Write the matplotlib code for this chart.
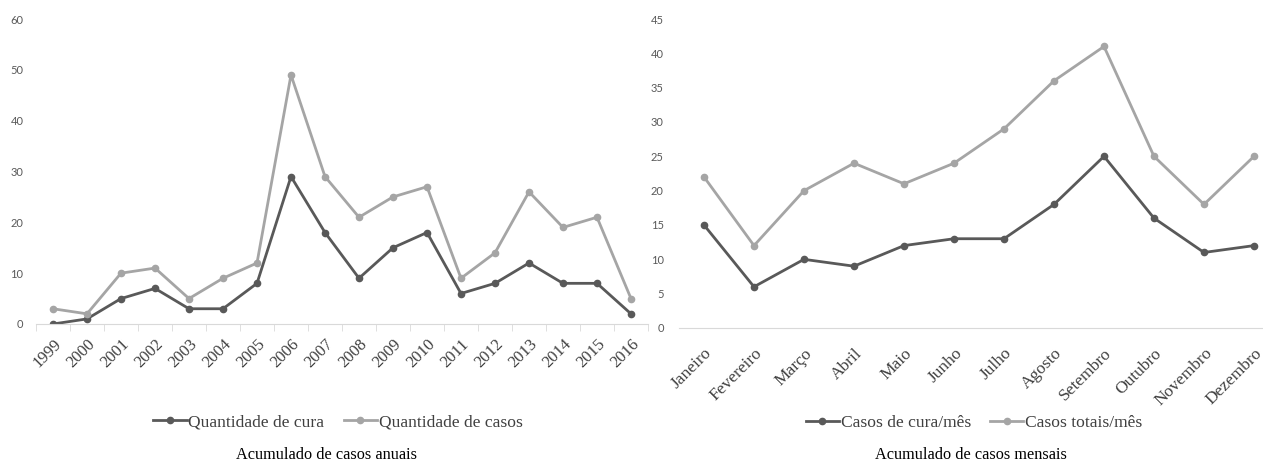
import matplotlib.pyplot as plt

anos = ['1999', '2000', '2001', '2002', '2003', '2004', '2005', '2006', '2007',
        '2008', '2009', '2010', '2011', '2012', '2013', '2014', '2015', '2016']
cura_anual = [0, 1, 5, 7, 3, 3, 8, 29, 18, 9, 15, 18, 6, 8, 12, 8, 8, 2]
casos_anual = [3, 2, 10, 11, 5, 9, 12, 49, 29, 21, 25, 27, 9, 14, 26, 19, 21, 5]

meses = ['Janeiro', 'Fevereiro', 'Março', 'Abril', 'Maio', 'Junho', 'Julho',
         'Agosto', 'Setembro', 'Outubro', 'Novembro', 'Dezembro']
cura_mensal = [15, 6, 10, 9, 12, 13, 13, 18, 25, 16, 11, 12]
casos_mensal = [22, 12, 20, 24, 21, 24, 29, 36, 41, 25, 18, 25]

DARK = '#595959'
LIGHT = '#a5a5a5'
AXIS = '#d9d9d9'
SERIF = 'Liberation Serif'
W, H = 1263, 463


def box(x0, x1, y_bottom, y_top):
    return [x0 / W, 1 - y_bottom / H, (x1 - x0) / W, (y_bottom - y_top) / H]


def style(ax, ymax, ystep, ypad):
    for s in ['top', 'right', 'left']:
        ax.spines[s].set_visible(False)
    ax.spines['bottom'].set_color(AXIS)
    ax.set_ylim(0, ymax)
    ax.set_yticks(range(0, ymax + 1, ystep))
    ax.tick_params(axis='y', length=0, pad=ypad, labelsize=8, labelcolor='#595959')
    for t in ax.get_yticklabels():
        t.set_family('Lato')


def draw(ax, labels, cura, casos, size, pad):
    x = list(range(len(labels)))
    ax.plot(x, cura, color=DARK, lw=2, marker='o', ms=4.5)
    ax.plot(x, casos, color=LIGHT, lw=2, marker='o', ms=4.5)
    ax.set_xticks(x)
    ax.set_xticklabels(labels, rotation=45, ha='right', rotation_mode='anchor',
                       family=SERIF, fontsize=size, color='#404040')
    ax.tick_params(axis='x', which='major', length=0, pad=pad)


fig = plt.figure(figsize=(W / 100, H / 100), dpi=100)

# anual
ax1 = fig.add_axes(box(36, 648, 324, 19))
draw(ax1, anos, cura_anual, casos_anual, 12, 9)
ax1.set_xlim(-0.5, len(anos) - 0.5)
style(ax1, 60, 10, 9)
ax1.set_xticks([i - 0.5 for i in range(len(anos) + 1)], minor=True)
ax1.tick_params(axis='x', which='minor', length=5, color=AXIS)
ax1.legend(['Quantidade de cura', 'Quantidade de casos'], loc='center',
           bbox_to_anchor=(338 / W, 1 - 422 / H), bbox_transform=fig.transFigure,
           ncol=2, frameon=False, prop={'family': SERIF, 'size': 12.6},
           handlelength=1.9, handletextpad=0.1, columnspacing=1.1,
           labelcolor='#404040')
fig.text(326 / W, 1 - 455 / H, 'Acumulado de casos anuais', ha='center', va='center',
         family=SERIF, fontsize=11.7)

# mensal
ax2 = fig.add_axes(box(679, 1263, 328, 19))
draw(ax2, meses, cura_mensal, casos_mensal, 12.5, 12.5)
ax2.set_xlim(-0.5, 11.18)
style(ax2, 45, 5, 11)
ax2.legend(['Casos de cura/mês', 'Casos totais/mês'], loc='center',
           bbox_to_anchor=(974 / W, 1 - 423 / H), bbox_transform=fig.transFigure,
           ncol=2, frameon=False, prop={'family': SERIF, 'size': 12.6},
           handlelength=1.9, handletextpad=0.1, columnspacing=1.1,
           labelcolor='#404040')
fig.text(971 / W, 1 - 455 / H, 'Acumulado de casos mensais', ha='center', va='center',
         family=SERIF, fontsize=11.7)

fig.savefig('out.png', dpi=100)
